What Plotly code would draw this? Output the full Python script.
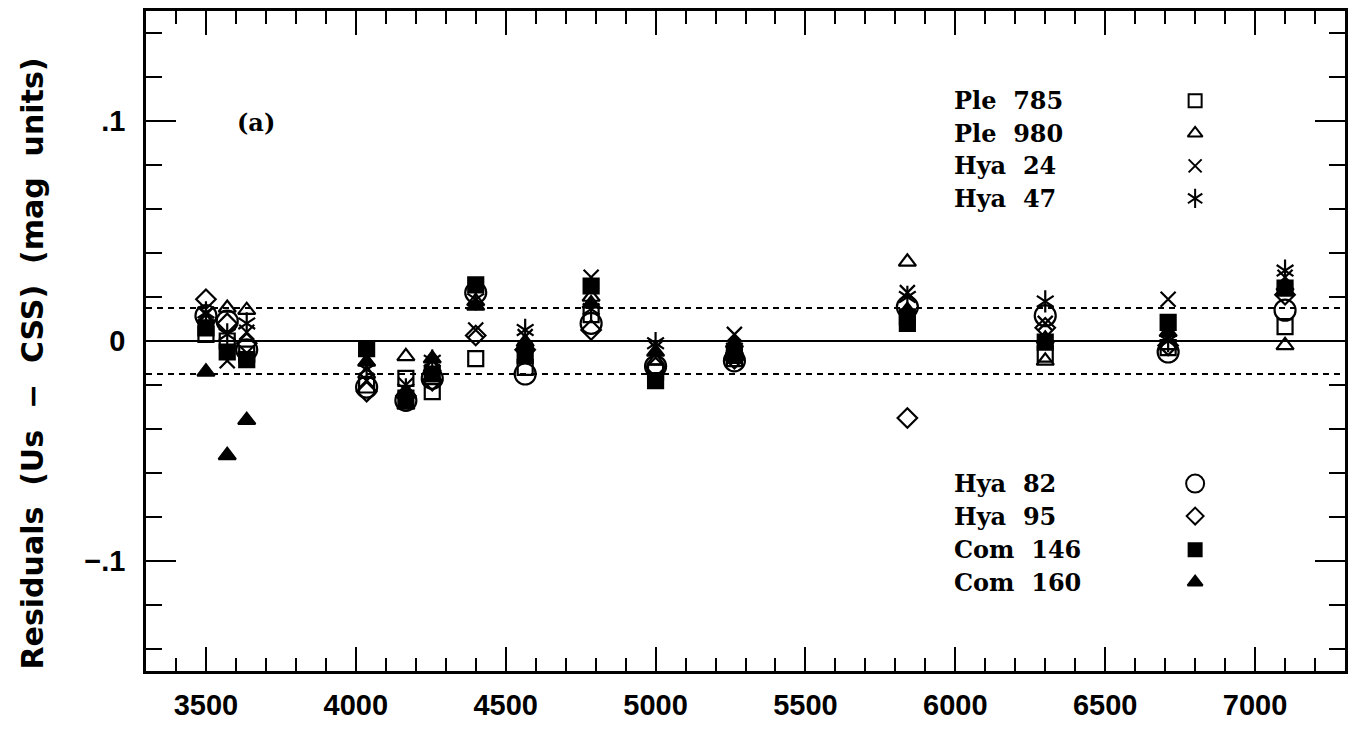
import plotly.graph_objects as go

# ---------------- data ----------------
wavelengths = [3500, 3571, 3636, 4036, 4167, 4255, 4400, 4565, 4785, 5000, 5263, 5840, 6300, 6710, 7100]

ple_785 = [0.003, 0.000, -0.006, -0.020, -0.017, -0.023, -0.008, -0.012, 0.012, -0.014, -0.008, 0.011, -0.006, -0.003, 0.0065]
ple_980 = [0.010, 0.015, 0.014, -0.015, -0.007, -0.012, 0.018, -0.003, 0.020, -0.009, -0.004, 0.036, -0.009, -0.002, -0.002]
hya_24 = [0.012, -0.009, 0.004, -0.018, -0.020, -0.014, 0.005, 0.002, 0.029, -0.003, 0.003, 0.022, 0.008, 0.019, 0.029]
hya_47 = [0.013, 0.003, 0.008, -0.013, -0.022, -0.009, 0.019, 0.005, 0.0145, -0.001, -0.0035, 0.020, 0.018, 0.000, 0.032]
hya_82 = [0.0115, 0.009, -0.004, -0.021, -0.027, -0.017, 0.022, -0.015, 0.008, -0.0115, -0.009, 0.0155, 0.0115, -0.005, 0.014]
hya_95 = [0.019, 0.008, -0.001, -0.023, -0.025, -0.018, 0.0025, -0.004, 0.005, -0.012, -0.008, -0.035, 0.006, -0.002, 0.021]
com_146 = [0.006, -0.005, -0.0085, -0.0035, -0.026, -0.015, 0.0255, -0.0065, 0.025, -0.018, -0.0065, 0.008, -0.0005, 0.0085, 0.024]
com_160 = [-0.014, -0.052, -0.036, -0.0095, -0.029, -0.008, 0.016, -0.0005, 0.017, -0.005, -0.001, 0.014, 0.001, 0.004, 0.025]

series_names = ["Ple  785", "Ple  980", "Hya  24", "Hya  47", "Hya  82", "Hya  95", "Com  146", "Com  160"]
series_values = [ple_785, ple_980, hya_24, hya_47, hya_82, hya_95, com_146, com_160]

band = 0.015
x_tick_labels = ["3500", "4000", "4500", "5000", "5500", "6000", "6500", "7000"]
y_tick_vals = [-0.1, 0.0, 0.1]
y_tick_text = ["\u2212.1", "0", ".1"]
y_title = "Residuals  (Us  \u2212  CSS)  (mag  units)"

# ---------------- styles ----------------
styles = [
    [("square-open", 15)],
    [("triangle-up-open", 15)],
    [("x-thin-open", 15)],
    [("y-up-open", 14), ("y-down-open", 14)],
    [("circle-open", 21)],
    [("diamond-open", 15)],
    [("square", 15)],
    [("triangle-up", 15)],
]
legend_styles = [
    [("square-open", 13)],
    [("triangle-up-open", 13)],
    [("x-thin-open", 13)],
    [("y-up-open", 12), ("y-down-open", 12)],
    [("circle-open", 18)],
    [("diamond-open", 13)],
    [("square", 13)],
    [("triangle-up", 13)],
]

fig = go.Figure()

for vals, layers in zip(series_values, styles):
    for sym, size in layers:
        fig.add_trace(go.Scatter(
            x=wavelengths, y=vals, mode="markers",
            marker=dict(symbol=sym, size=size, color="black",
                        line=dict(color="black", width=2.2)),
            showlegend=False, hoverinfo="skip"))

# legend keys (custom: text left, symbol right) on a hidden overlay axis
key_x = 0.875
key_text_x = 0.6725
key_rows = [0.864, 0.8146, 0.7653, 0.716, 0.284, 0.2347, 0.1839, 0.1345]
for name, layers, ky in zip(series_names, legend_styles, key_rows):
    for sym, size in layers:
        fig.add_trace(go.Scatter(
            x=[key_x], y=[ky], mode="markers", xaxis="x2", yaxis="y2",
            marker=dict(symbol=sym, size=size, color="black",
                        line=dict(color="black", width=2)),
            showlegend=False, hoverinfo="skip"))
    fig.add_annotation(x=key_text_x, y=ky, xref="paper", yref="paper",
                       text=name, showarrow=False, xanchor="left", yanchor="middle",
                       font=dict(family="DejaVu Serif", size=24, color="black", weight="bold"))

fig.add_annotation(x=0.0917, y=0.831, xref="paper", yref="paper", text="(a)",
                   showarrow=False, xanchor="center", yanchor="middle",
                   font=dict(family="DejaVu Serif", size=24, color="black", weight="bold"))

# y-axis title as rotated annotation
fig.add_annotation(x=-0.095, y=0.466, xref="paper", yref="paper", text=y_title,
                   textangle=-90, showarrow=False, xanchor="center", yanchor="middle",
                   font=dict(family="DejaVu Sans", size=30, color="black", weight="bold"))

# reference lines
fig.add_shape(type="line", xref="paper", x0=0, x1=1, yref="y", y0=0, y1=0,
              line=dict(color="black", width=2.2))
for yv in (band, -band):
    fig.add_shape(type="line", xref="paper", x0=0, x1=1, yref="y", y0=yv, y1=yv,
                  line=dict(color="black", width=2.2, dash="6px,5px"))

tick_font = dict(family="Liberation Sans", size=29, color="black", weight="bold")

fig.update_layout(
    width=1356, height=729,
    margin=dict(l=146, r=10, t=8, b=52),
    paper_bgcolor="white", plot_bgcolor="white",
    showlegend=False,
    xaxis=dict(
        range=[3300, 7300], showgrid=False, zeroline=False,
        showline=True, linecolor="black", linewidth=2.5, mirror="allticks",
        ticks="inside", ticklen=24, tickwidth=2, tickcolor="black",
        tickmode="array", tickvals=[int(t) for t in x_tick_labels], ticktext=x_tick_labels,
        tickfont=tick_font, ticklabelstandoff=6,
        minor=dict(ticks="inside", tickmode="linear", tick0=3300, dtick=100,
                   ticklen=13, tickwidth=2, tickcolor="black", showgrid=False),
    ),
    yaxis=dict(
        range=[-0.15, 0.15], showgrid=False, zeroline=False,
        showline=True, linecolor="black", linewidth=2.5, mirror="allticks",
        ticks="inside", ticklen=30, tickwidth=2, tickcolor="black",
        tickmode="array", tickvals=y_tick_vals, ticktext=y_tick_text,
        tickfont=tick_font, ticklabelstandoff=12,
        minor=dict(ticks="inside", tickmode="linear", tick0=0, dtick=0.02,
                   ticklen=16, tickwidth=2, tickcolor="black", showgrid=False),
    ),
    xaxis2=dict(overlaying="x", anchor="y2", range=[0, 1], visible=False),
    yaxis2=dict(overlaying="y", anchor="x2", range=[0, 1], visible=False),
)

fig.write_html("out.html")
